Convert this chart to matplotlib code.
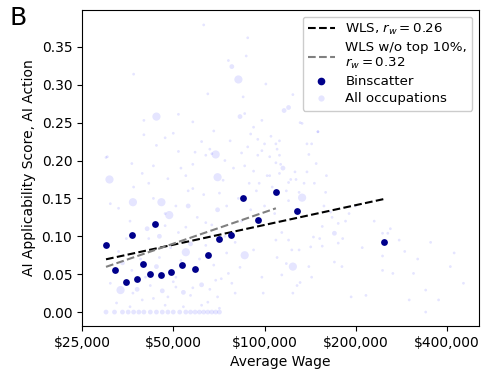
import numpy as np
import matplotlib
matplotlib.use("Agg")
import matplotlib.pyplot as plt
from matplotlib.ticker import FuncFormatter, NullLocator
from matplotlib.lines import Line2D

# Binscatter points (wage in $, score)
bin_wage = [30000, 32100, 34900, 36500, 37900, 39800, 41900, 43600, 45500, 49100,
            53300, 59000, 65100, 71000, 77400, 85000, 95500, 109000, 127600, 248000]
bin_score = [0.089, 0.055, 0.040, 0.102, 0.043, 0.064, 0.050, 0.116, 0.049, 0.053,
             0.062, 0.057, 0.075, 0.096, 0.102, 0.151, 0.121, 0.158, 0.134, 0.092]

# WLS fits: score = a + b*log10(wage)
wls_coef = (-0.319, 0.0868)
wls_range = [30000, 250000]
trim_coef = (-0.5582, 0.138)
trim_range = [30000, 109000]

# All occupations: wage (thousand $), score, weight class (1 small, 2 medium, 3 large)
occ_wage = [63, 88, 87, 76, 78, 82, 37, 101, 65, 85, 44, 52, 40, 58, 83, 86, 40, 50, 68, 77,
            44, 52, 59, 69, 30, 116, 120, 150, 98, 131, 124, 90, 95, 100, 105, 110, 92, 98, 104, 112,
            88, 133, 150, 109, 138, 143, 109, 112, 140, 148, 112, 120, 130, 159, 133, 120, 165, 155, 175, 145,
            152, 181, 175, 155, 109, 120, 114, 245, 255, 278, 353, 422, 245, 245, 265, 310, 340, 453, 375, 193,
            216, 124, 124, 118, 170, 143, 131, 114, 110, 170, 142, 123, 130, 340, 300,
            30.8, 36.8, 45.7, 30.3, 36.5, 43, 39.5, 48, 55, 64, 67, 70, 73, 58, 71, 86, 95, 92, 41.5, 33,
            31, 48.5, 55, 47, 35, 41.5, 45, 55, 64, 75, 86, 92, 31, 33.5, 36.8, 39.5, 43, 48, 51, 57,
            65, 70, 80, 32.5, 36, 47, 54, 62, 71, 36.5, 40.5, 51, 69, 76, 83, 98, 99,
            30, 32, 34, 35.5, 37, 38.5, 40, 42, 44, 46, 48, 50, 52.5, 55, 57, 59, 61, 63, 65, 67, 69, 71,
            38, 42, 46, 50, 54, 58, 62, 66, 72, 78, 34, 39, 44, 49, 53, 57, 61, 68, 74, 80,
            36, 41, 47, 52, 56, 60, 64, 70, 84, 90, 33, 37, 43, 45, 51, 56, 63, 67, 75, 82,
            102, 106, 115, 118, 122, 96, 100, 108, 126, 135, 200, 230, 290, 410, 180, 210, 160, 190, 320, 260,
            58, 62, 66, 74, 79, 84, 89, 94, 47, 53, 104, 113, 127, 138, 146, 157, 167, 185, 140, 128]
occ_score = [0.379, 0.362, 0.338, 0.332, 0.324, 0.307, 0.314, 0.301, 0.288, 0.284, 0.258, 0.261, 0.253, 0.251, 0.258, 0.262, 0.234, 0.236, 0.239, 0.226,
             0.220, 0.212, 0.211, 0.208, 0.204, 0.266, 0.270, 0.238, 0.253, 0.250, 0.287, 0.235, 0.228, 0.222, 0.232, 0.215, 0.244, 0.213, 0.205, 0.226,
             0.218, 0.249, 0.238, 0.222, 0.222, 0.222, 0.197, 0.207, 0.208, 0.196, 0.183, 0.171, 0.158, 0.158, 0.151, 0.147, 0.132, 0.113, 0.117, 0.099,
             0.097, 0.097, 0.091, 0.087, 0.095, 0.095, 0.105, 0.104, 0.104, 0.095, 0.092, 0.078, 0.074, 0.055, 0.051, 0.051, 0.029, 0.038, 0.016, 0.020,
             0.022, 0.025, 0.060, 0.064, 0.066, 0.046, 0.039, 0.049, 0.072, 0.104, 0.086, 0.082, 0.082, 0.000, 0.016,
             0.175, 0.145, 0.145, 0.205, 0.196, 0.193, 0.183, 0.176, 0.180, 0.207, 0.209, 0.178, 0.174, 0.163, 0.157, 0.193, 0.207, 0.186, 0.170, 0.137,
             0.143, 0.128, 0.112, 0.114, 0.097, 0.097, 0.072, 0.079, 0.088, 0.078, 0.075, 0.082, 0.038, 0.029, 0.025, 0.016, 0.018, 0.020, 0.033, 0.022,
             0.013, 0.020, 0.025, 0.012, 0.007, 0.009, 0.007, 0.009, 0.005, 0.055, 0.046, 0.046, 0.042, 0.051, 0.059, 0.046, 0.025,
             0.0, 0.0, 0.0, 0.0, 0.0, 0.0, 0.0, 0.0, 0.0, 0.0, 0.0, 0.0, 0.0, 0.0, 0.0, 0.0, 0.0, 0.0, 0.0, 0.0, 0.0, 0.0,
             0.030, 0.035, 0.028, 0.040, 0.026, 0.032, 0.036, 0.030, 0.044, 0.038, 0.065, 0.070, 0.060, 0.085, 0.068, 0.090, 0.070, 0.062, 0.100, 0.092,
             0.120, 0.110, 0.130, 0.105, 0.140, 0.125, 0.118, 0.135, 0.120, 0.135, 0.080, 0.165, 0.150, 0.100, 0.140, 0.160, 0.155, 0.115, 0.140, 0.150,
             0.180, 0.165, 0.190, 0.160, 0.175, 0.170, 0.140, 0.130, 0.185, 0.170, 0.140, 0.120, 0.080, 0.060, 0.060, 0.085, 0.180, 0.130, 0.070, 0.110,
             0.195, 0.225, 0.215, 0.200, 0.190, 0.210, 0.170, 0.160, 0.230, 0.190, 0.180, 0.195, 0.175, 0.185, 0.170, 0.140, 0.125, 0.120, 0.060, 0.035]
occ_weight = [1, 1, 1, 1, 2, 3, 1, 1, 1, 1, 3, 1, 1, 1, 2, 1, 1, 1, 1, 1,
              1, 1, 1, 3, 1, 2, 2, 1, 1, 1, 1, 1, 1, 1, 1, 1, 1, 1, 1, 1,
              1, 1, 1, 1, 1, 1, 1, 1, 1, 1, 1, 1, 1, 1, 3, 1, 1, 1, 1, 1,
              1, 1, 1, 1, 1, 1, 1, 1, 1, 1, 1, 1, 1, 1, 1, 1, 1, 1, 1, 1,
              1, 1, 3, 1, 1, 1, 1, 1, 1, 2, 1, 1, 1, 1, 1,
              3, 3, 3, 1, 1, 1, 1, 1, 1, 1, 1, 3, 1, 1, 1, 1, 1, 1, 1, 1,
              1, 3, 1, 1, 1, 1, 1, 3, 1, 1, 3, 1, 1, 3, 1, 1, 1, 1, 1, 1,
              1, 1, 1, 1, 1, 1, 1, 1, 1, 1, 1, 1, 1, 1, 1, 1, 1,
              2, 2, 2, 2, 2, 2, 2, 2, 2, 2, 2, 2, 2, 2, 2, 2, 2, 2, 2, 2, 2, 2,
              2, 1, 2, 1, 2, 1, 2, 1, 1, 1, 2, 1, 2, 1, 1, 2, 1, 1, 1, 1,
              1, 2, 1, 1, 2, 1, 1, 2, 1, 1, 1, 1, 1, 2, 1, 1, 1, 1, 1, 1,
              1, 1, 2, 1, 1, 1, 1, 1, 1, 1, 1, 1, 1, 1, 1, 1, 1, 1, 1, 1,
              1, 1, 1, 1, 1, 1, 1, 1, 1, 1, 1, 1, 1, 1, 1, 1, 1, 1, 1, 1]

fig = plt.figure(figsize=(4.89, 3.77), dpi=100)
ax = fig.add_axes([0.1677, 0.1353, 0.812, 0.8382])

size_map = {1: 4, 2: 12, 3: 35}
sizes = [size_map[w] for w in occ_weight]
ax.scatter(np.array(occ_wage) * 1000, occ_score, s=sizes, color='blue', alpha=0.1,
           linewidths=0, zorder=1)

ax.scatter(bin_wage, bin_score, s=24, color='#00008b', zorder=4, linewidths=0)

xw = np.array(wls_range, dtype=float)
ax.plot(xw, wls_coef[0] + wls_coef[1] * np.log10(xw), color='black', ls='--', lw=1.5,
        zorder=3)
xt = np.array(trim_range, dtype=float)
ax.plot(xt, trim_coef[0] + trim_coef[1] * np.log10(xt), color='gray', ls='--', lw=1.5,
        zorder=3)

ax.set_xscale('log')
ax.set_xlim(25000, 510000)
ax.set_ylim(-0.0184, 0.3987)
ax.set_xticks([25000, 50000, 100000, 200000, 400000])
ax.xaxis.set_major_formatter(FuncFormatter(lambda v, p: f"${v:,.0f}"))
ax.xaxis.set_minor_locator(NullLocator())
ax.set_yticks([0.0, 0.05, 0.10, 0.15, 0.20, 0.25, 0.30, 0.35])
ax.yaxis.set_major_formatter(FuncFormatter(lambda v, p: f"{v:.2f}"))
ax.set_xlabel('Average Wage', fontsize=10)
ax.set_ylabel('AI Applicability Score, AI Action', fontsize=10)
ax.tick_params(labelsize=10)

handles = [
    Line2D([0], [0], color='black', ls='--', lw=1.5),
    Line2D([0], [0], color='gray', ls='--', lw=1.5),
    Line2D([0], [0], marker='o', color='#00008b', ls='none', markersize=4.5),
    Line2D([0], [0], marker='o', color='blue', alpha=0.1, ls='none', markersize=4.5, markeredgewidth=0),
]
labels = ['WLS, $r_w = 0.26$', 'WLS w/o top 10%,\n$r_w = 0.32$', 'Binscatter', 'All occupations']
ax.legend(handles, labels, loc='upper right', fontsize=9.6, framealpha=1,
          labelspacing=0.3, handlelength=2.0)

fig.text(0.02, 0.985, 'B', fontsize=18, va='top', ha='left')

fig.savefig('out.png', dpi=100)
